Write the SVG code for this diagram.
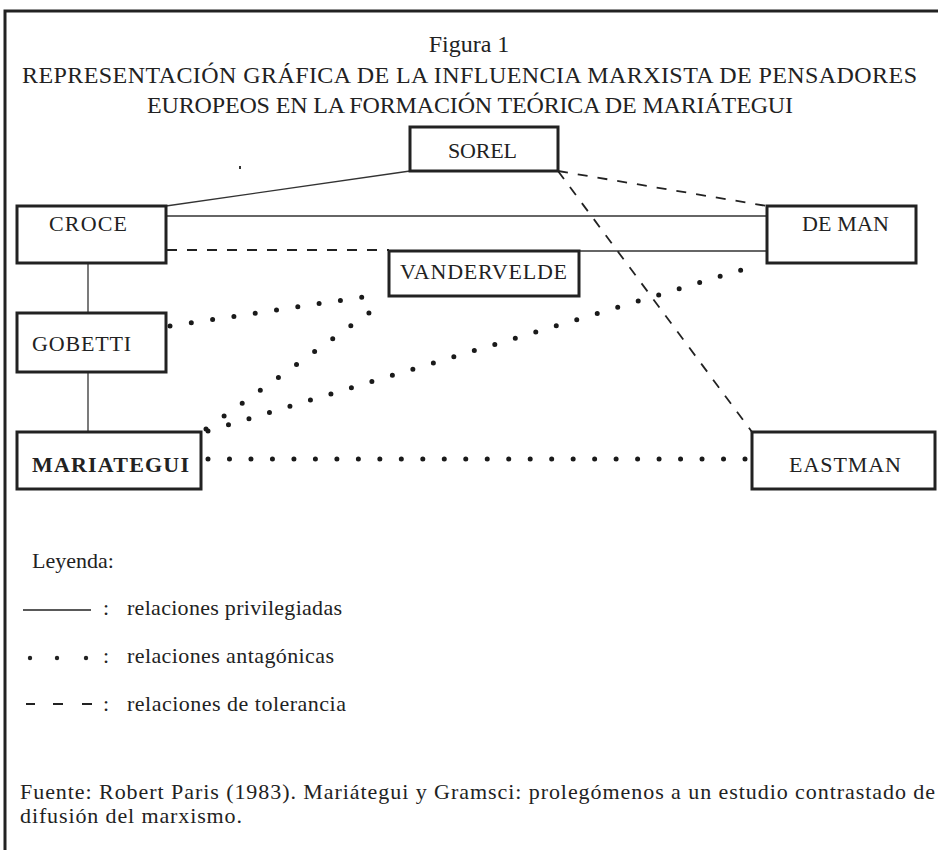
<svg xmlns="http://www.w3.org/2000/svg" width="938" height="850" viewBox="0 0 938 850">
<style>
  text { font-family: "Liberation Serif", "DejaVu Serif", serif; fill: #222; }
  .lbl { font-size: 22px; }
  .ttl { font-size: 24px; }
  .body { font-size: 22px; }
  .box { fill: #fff; stroke: #222; stroke-width: 3; }
  .solid { stroke: #333; stroke-width: 1.3; fill: none; }
  .dash { stroke: #222; stroke-width: 1.8; stroke-dasharray: 10 10; fill: none; }
  .dot { stroke: #1a1a1a; stroke-width: 5; stroke-linecap: round; fill: none; }
</style>
<rect width="938" height="850" fill="#fff"/>
<path d="M5 850 V11 H938" fill="none" stroke="#222" stroke-width="3"/>

<g id="title">
  <text class="ttl" x="469" y="52" text-anchor="middle" font-size="22">Figura 1</text>
  <text class="ttl" x="22" y="83" textLength="895" lengthAdjust="spacing">REPRESENTACIÓN GRÁFICA DE LA INFLUENCIA MARXISTA DE PENSADORES</text>
  <text class="ttl" x="147" y="113" textLength="646" lengthAdjust="spacing">EUROPEOS EN LA FORMACIÓN TEÓRICA DE MARIÁTEGUI</text>
</g>
<rect x="239" y="166" width="2" height="3" fill="#333"/>

<g id="connectors">
  <line class="solid" x1="166" y1="206" x2="410" y2="171"/>
  <line class="solid" x1="166" y1="216" x2="767" y2="216"/>
  <line class="solid" x1="389" y1="251" x2="767" y2="251"/>
  <line class="solid" x1="88" y1="263" x2="88" y2="313"/>
  <line class="solid" x1="88" y1="372" x2="88" y2="432"/>
  <line class="dash" x1="167" y1="250" x2="389" y2="250"/>
  <line class="dash" x1="558" y1="171" x2="767" y2="206"/>
  <line class="dash" x1="558" y1="171" x2="752" y2="432"/>
  <line class="dot" x1="170" y1="326" x2="383" y2="294" stroke-dasharray="0 21.54"/>
  <line class="dot" x1="206" y1="429" x2="387" y2="300" stroke-dasharray="0 22.23"/>
  <line class="dot" x1="208" y1="431" x2="761" y2="264" stroke-dasharray="0 21.4"/>
  <line class="dot" x1="208" y1="459" x2="745" y2="459" stroke-dasharray="0 21.48"/>
</g>

<g id="sorel">
  <rect class="box" x="410" y="127" width="148" height="44"/>
  <text class="lbl" x="448" y="158" textLength="69" lengthAdjust="spacing">SOREL</text>
</g>
<g id="croce">
  <rect class="box" x="17" y="206" width="149" height="57"/>
  <text class="lbl" x="49" y="231" textLength="78" lengthAdjust="spacing">CROCE</text>
</g>
<g id="deman">
  <rect class="box" x="767" y="206" width="149" height="57"/>
  <text class="lbl" x="802" y="231" textLength="87" lengthAdjust="spacing">DE MAN</text>
</g>
<g id="vandervelde">
  <rect class="box" x="389" y="251" width="190" height="45"/>
  <text class="lbl" x="400" y="279" textLength="167" lengthAdjust="spacing">VANDERVELDE</text>
</g>
<g id="gobetti">
  <rect class="box" x="17" y="313" width="149" height="59"/>
  <text class="lbl" x="32" y="351" textLength="99" lengthAdjust="spacing">GOBETTI</text>
</g>
<g id="mariategui">
  <rect class="box" x="17" y="432" width="184" height="57"/>
  <text class="lbl" x="32" y="472" font-weight="bold" textLength="157" lengthAdjust="spacing">MARIATEGUI</text>
</g>
<g id="eastman">
  <rect class="box" x="752" y="432" width="183" height="57"/>
  <text class="lbl" x="789" y="472" textLength="112" lengthAdjust="spacing">EASTMAN</text>
</g>

<g id="legend">
  <text class="body" x="32" y="568">Leyenda:</text>
  <line x1="23" y1="610" x2="91" y2="610" stroke="#222" stroke-width="1.3"/>
  <text class="body" x="103" y="615">:</text>
  <text class="body" x="127" y="615" textLength="215" lengthAdjust="spacing">relaciones privilegiadas</text>
  <circle cx="30" cy="658" r="2.2" fill="#222"/>
  <circle cx="57" cy="658" r="2.2" fill="#222"/>
  <circle cx="86" cy="658" r="2.2" fill="#222"/>
  <text class="body" x="103" y="663">:</text>
  <text class="body" x="127" y="663" textLength="207" lengthAdjust="spacing">relaciones antagónicas</text>
  <line x1="26" y1="704" x2="35" y2="704" stroke="#222" stroke-width="2"/>
  <line x1="53" y1="704" x2="63" y2="704" stroke="#222" stroke-width="2"/>
  <line x1="82" y1="704" x2="92" y2="704" stroke="#222" stroke-width="2"/>
  <text class="body" x="103" y="711">:</text>
  <text class="body" x="127" y="711" textLength="219" lengthAdjust="spacing">relaciones de tolerancia</text>
</g>

<g id="source">
  <text class="body" x="20" y="799" textLength="915" lengthAdjust="spacing">Fuente: Robert Paris (1983). Mariátegui y Gramsci: prolegómenos a un estudio contrastado de</text>
  <text class="body" x="20" y="823" textLength="222" lengthAdjust="spacing">difusión del marxismo.</text>
</g>
</svg>
